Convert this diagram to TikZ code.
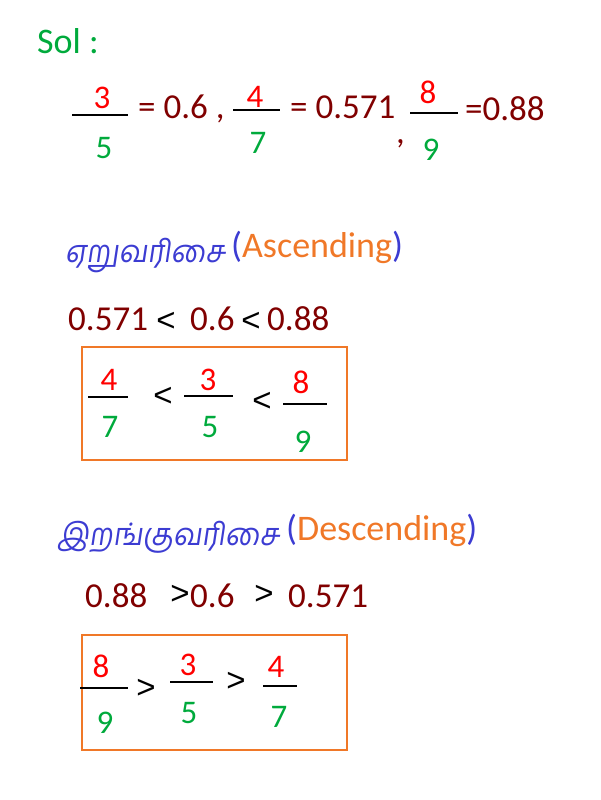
\documentclass[tikz,border=0pt]{standalone}
\usepackage{fontspec}
\setmainfont{Carlito}
\newfontfamily\tamilfont[Script=Tamil,FakeSlant=0.15,FakeStretch=0.93]{Hind Madurai}
\newfontfamily\relfont{Liberation Sans}
\definecolor{numred}{RGB}{255,0,0}
\definecolor{dengreen}{RGB}{0,170,60}
\definecolor{maroon}{RGB}{128,0,0}
\definecolor{boxorange}{RGB}{240,120,40}
\definecolor{headblue}{RGB}{60,60,210}
\begin{document}
\begin{tikzpicture}[x=1pt,y=-1pt,
  txt/.style={inner sep=0pt,anchor=base,font=\fontsize{33}{36}\selectfont},
  txtw/.style={inner sep=0pt,anchor=base west,font=\fontsize{35}{38}\selectfont},
  num/.style={txt,text=numred},
  den/.style={txt,text=dengreen},
  val/.style={txtw,text=maroon},
  rel/.style={inner sep=0pt,anchor=center,text=black,font=\relfont\fontsize{33}{36}\selectfont},
  bar/.style={line width=2.5pt,black},
  frame/.style={draw=boxorange,line width=2.5pt},
  head/.style={inner sep=0pt,anchor=base west,font=\fontsize{36}{40}\selectfont},
  thead/.style={inner sep=0pt,anchor=base west,text=headblue,font=\tamilfont\fontsize{31}{36}\selectfont}
]
\useasboundingbox (0,0) rectangle (600,800);
% Sol
\node[txtw,text=dengreen,font=\fontsize{36}{40}\selectfont] (sol) at (37,53) {Sol :};
% first line
\coordinate (a1) at (72,115); \coordinate (a2) at (128,115);
\draw[bar] (a1) -- (a2);
\node[num] (n1) at (102,108) {3};
\node[den] (d1) at (104,158) {5};
\node[val] (e1) at (138,118) {= 0.6 ,};
\coordinate (b1) at (233,110); \coordinate (b2) at (280,110);
\draw[bar] (b1) -- (b2);
\node[num] (n2) at (255,107) {4};
\node[den] (d2) at (258,153) {7};
\node[val] (e2) at (290,118) {= 0.571};
\node[val] (c2) at (396,143) {,};
\coordinate (c1) at (410,113); \coordinate (c3) at (458,113);
\draw[bar] (c1) -- (c3);
\node[num] (n3) at (428,103) {8};
\node[den] (d3) at (431,160) {9};
\node[val] (e3) at (465,120) {=0.88};
% Ascending
\node[thead] (ta) at (65,262) {ஏறுவரிசை};
\node[head] (ea) at (231,257) {\textcolor{headblue}{(}\textcolor{boxorange}{Ascending}\textcolor{headblue}{)}};
\node[val] (a571) at (68,330) {0.571};
\node[rel] (al1) at (166,322) {<};
\node[val] (a06) at (190,330) {0.6};
\node[rel] (al2) at (251,322) {<};
\node[val] (a088) at (267,330) {0.88};
\draw[frame] (82,347) rectangle (347,460);
\coordinate (p1) at (88,397); \coordinate (p2) at (128,397);
\draw[bar] (p1) -- (p2);
\node[num] (pn1) at (109,390) {4};
\node[den] (pd1) at (110,437) {7};
\node[rel] (pl1) at (163,397) {<};
\coordinate (q1) at (184,396); \coordinate (q2) at (233,396);
\draw[bar] (q1) -- (q2);
\node[num] (qn1) at (208,390) {3};
\node[den] (qd1) at (210,437) {5};
\node[rel] (pl2) at (262,402) {<};
\coordinate (r1) at (283,404); \coordinate (r2) at (327,404);
\draw[bar] (r1) -- (r2);
\node[num] (rn1) at (301,393) {8};
\node[den] (rd1) at (303,452) {9};
% Descending
\node[thead] (td) at (57,545) {இறங்குவரிசை};
\node[head] (ed) at (286,540) {\textcolor{headblue}{(}\textcolor{boxorange}{Descending}\textcolor{headblue}{)}};
\node[val] (d088) at (85,607) {0.88};
\node[rel] (dg1) at (180,595) {>};
\node[val] (d06) at (190,607) {0.6};
\node[rel] (dg2) at (264,595) {>};
\node[val] (d571) at (288,607) {0.571};
\draw[frame] (82,635) rectangle (347,750);
\coordinate (s1) at (80,688); \coordinate (s2) at (128,688);
\draw[bar] (s1) -- (s2);
\node[num] (sn1) at (101,677) {8};
\node[den] (sd1) at (105,733) {9};
\node[rel] (sg1) at (146,689) {>};
\coordinate (t1) at (170,682); \coordinate (t2) at (213,682);
\draw[bar] (t1) -- (t2);
\node[num] (tn1) at (188,675) {3};
\node[den] (td1) at (189,723) {5};
\node[rel] (sg2) at (236,682) {>};
\coordinate (u1) at (263,686); \coordinate (u2) at (297,686);
\draw[bar] (u1) -- (u2);
\node[num] (un1) at (276,677) {4};
\node[den] (ud1) at (279,727) {7};
\end{tikzpicture}
\end{document}
